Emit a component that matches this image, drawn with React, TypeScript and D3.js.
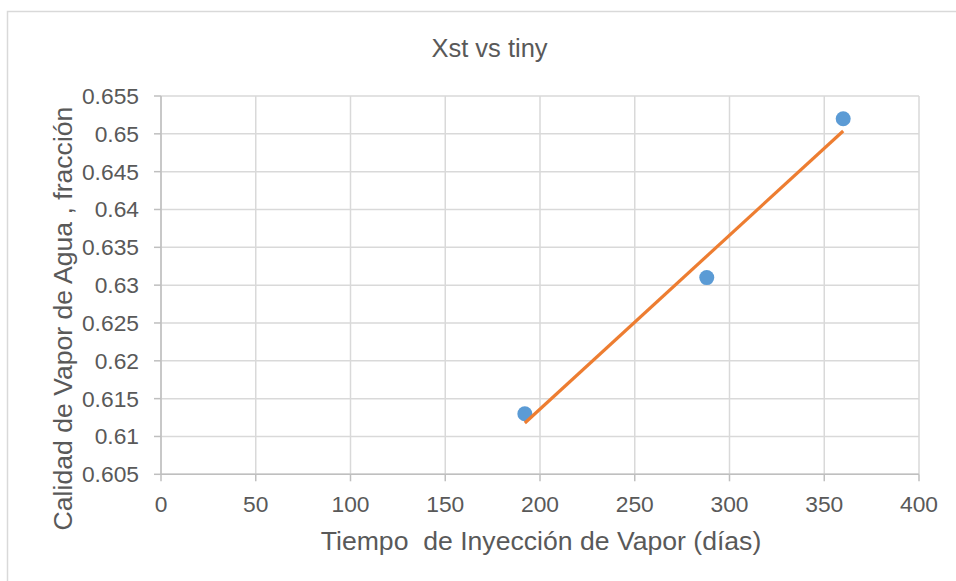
import React from "react";
import * as d3 from "d3";

const title = "Xst vs tiny";
const xAxisTitle = "Tiempo  de Inyección de Vapor (días)";
const yAxisTitle = "Calidad de Vapor de Agua , fracción";
const xDays = [192, 288, 360];
const yQuality = [0.613, 0.631, 0.652];
const xTicks = [0, 50, 100, 150, 200, 250, 300, 350, 400];
const yTicks = [0.605, 0.61, 0.615, 0.62, 0.625, 0.63, 0.635, 0.64, 0.645, 0.65, 0.655];

const W = 956;
const H = 581;
const left = 161;
const right = 919;
const top = 96;
const bottom = 474.3;
const font = "'Liberation Sans', Arial, sans-serif";
const textColor = "#595959";
const gridColor = "#d9d9d9";

export default function App() {
  const x = d3.scaleLinear().domain([0, 400]).range([left, right]);
  const y = d3.scaleLinear().domain([0.605, 0.655]).range([bottom, top]);

  // linear least-squares trendline from the data
  const mx = d3.mean(xDays) as number;
  const my = d3.mean(yQuality) as number;
  let sxy = 0;
  let sxx = 0;
  xDays.forEach((xv, i) => {
    sxy += (xv - mx) * (yQuality[i] - my);
    sxx += (xv - mx) * (xv - mx);
  });
  const slope = sxy / sxx;
  const intercept = my - slope * mx;
  const x0 = d3.min(xDays) as number;
  const x1 = d3.max(xDays) as number;
  const trend: [number, number][] = [
    [x0, intercept + slope * x0],
    [x1, intercept + slope * x1],
  ];
  const line = d3
    .line<[number, number]>()
    .x((d) => x(d[0]))
    .y((d) => y(d[1]));

  return (
    <svg
      width={W}
      height={H}
      style={{ position: "absolute", left: 0, top: 0, background: "#ffffff" }}
    >
      <rect x={0} y={0} width={W} height={H} fill="#ffffff" />
      {/* chart frame */}
      <rect
        x={7.5}
        y={11.5}
        width={W + 20}
        height={H + 20}
        fill="#ffffff"
        stroke={gridColor}
        strokeWidth={1.5}
      />
      <text
        x={489.5}
        y={57}
        textAnchor="middle"
        fontFamily={font}
        fontSize={25.5}
        fill={textColor}
      >
        {title}
      </text>
      {/* gridlines */}
      {yTicks.map((t) => (
        <line
          key={"gy" + t}
          x1={left}
          x2={right}
          y1={y(t)}
          y2={y(t)}
          stroke={gridColor}
          strokeWidth={1.5}
        />
      ))}
      {xTicks.map((t) => (
        <line
          key={"gx" + t}
          x1={x(t)}
          x2={x(t)}
          y1={top}
          y2={bottom}
          stroke={gridColor}
          strokeWidth={1.5}
        />
      ))}
      {/* axes */}
      <line x1={left} x2={left} y1={top} y2={bottom} stroke="#bfbfbf" strokeWidth={1.5} />
      <line x1={left} x2={right} y1={bottom} y2={bottom} stroke="#bfbfbf" strokeWidth={1.5} />
      {yTicks.map((t) => (
        <line
          key={"ty" + t}
          x1={left - 7}
          x2={left}
          y1={y(t)}
          y2={y(t)}
          stroke="#bfbfbf"
          strokeWidth={1.5}
        />
      ))}
      {xTicks.map((t) => (
        <line
          key={"tx" + t}
          x1={x(t)}
          x2={x(t)}
          y1={bottom}
          y2={bottom + 7}
          stroke="#bfbfbf"
          strokeWidth={1.5}
        />
      ))}
      {yTicks.map((t) => (
        <text
          key={"ly" + t}
          x={139}
          y={y(t)}
          dy="0.35em"
          textAnchor="end"
          fontFamily={font}
          fontSize={22.8}
          fill={textColor}
        >
          {d3.format("")(+t.toFixed(3))}
        </text>
      ))}
      {xTicks.map((t) => (
        <text
          key={"lx" + t}
          x={x(t)}
          y={511.5}
          textAnchor="middle"
          fontFamily={font}
          fontSize={22.8}
          fill={textColor}
        >
          {t}
        </text>
      ))}
      {/* axis titles */}
      <text
        x={541}
        y={550}
        textAnchor="middle"
        fontFamily={font}
        fontSize={26.6}
        fill={textColor}
        style={{ whiteSpace: "pre" }}
      >
        {xAxisTitle}
      </text>
      <text
        transform={`translate(71.5, 318.5) rotate(-90)`}
        textAnchor="middle"
        fontFamily={font}
        fontSize={26.6}
        fill={textColor}
        style={{ whiteSpace: "pre" }}
      >
        {yAxisTitle}
      </text>
      {/* data */}
      {xDays.map((xv, i) => (
        <circle key={"p" + i} cx={x(xv)} cy={y(yQuality[i])} r={7.5} fill="#5b9bd5" />
      ))}
      <path d={line(trend) || ""} fill="none" stroke="#ed7d31" strokeWidth={3.2} />
    </svg>
  );
}
